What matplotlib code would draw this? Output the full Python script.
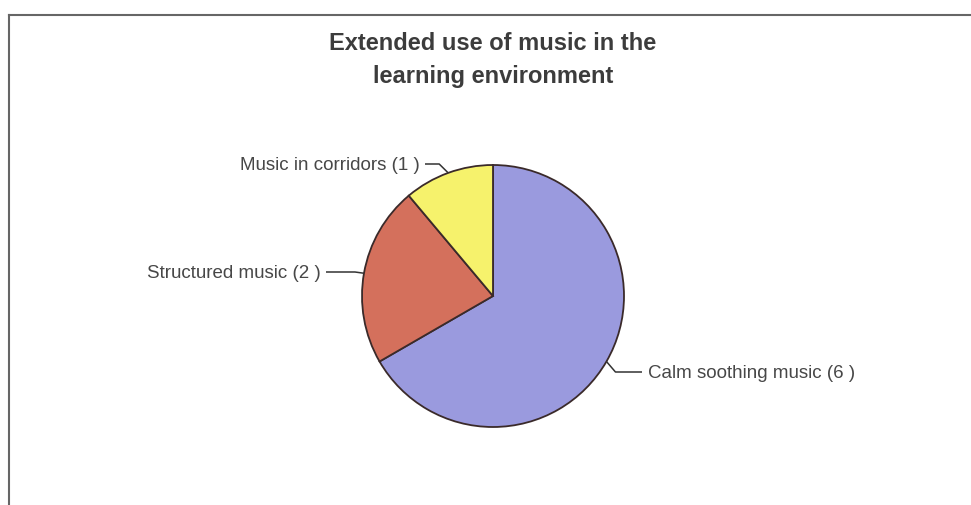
import numpy as np
import matplotlib.pyplot as plt
from matplotlib.lines import Line2D

# slice data, drawn clockwise from 12 o'clock
labels = ['Calm soothing music', 'Structured music', 'Music in corridors']
counts = [6, 2, 1]
colors = ['#9a9ade', '#d4705c', '#f6f26c']

# where each label sits (pixel coords, y measured up) and its alignment
label_pos = [(648, 133, 'left'), (321, 233, 'right'), (420, 341, 'right')]

W, H = 971, 505
fig = plt.figure(figsize=(W / 100, H / 100), dpi=100)
ax = fig.add_axes([0, 0, 1, 1])

cx, cy, r = 493, 209, 131
wedges, _ = ax.pie(counts, colors=colors, startangle=90, counterclock=False,
                   center=(cx, cy), radius=r, frame=True,
                   wedgeprops=dict(edgecolor='#3a2a2a', linewidth=1.3))

for w, name, n, (tx, ty, ha) in zip(wedges, labels, counts, label_pos):
    mid = np.deg2rad((w.theta1 + w.theta2) / 2)
    ex, ey = cx + r * np.cos(mid), cy + r * np.sin(mid)
    # short kink out from the edge, then flat to the text
    kx = ex + 9 * np.sign(np.cos(mid))
    end = tx + 5 if ha == 'right' else tx - 6
    ax.plot([ex, kx, end], [ey, ty, ty], color='#333333', lw=1.1,
            solid_capstyle='butt')
    ax.text(tx, ty, f'{name} ({n} )', ha=ha, va='center_baseline',
            fontsize=13.5, color='#474747', family='Liberation Sans')

ax.set_xlim(0, W)
ax.set_ylim(0, H)
ax.set_aspect('equal')
ax.axis('off')

for y, line in [(44, 'Extended use of music in the'), (76, 'learning environment')]:
    fig.text(cx / W, 1 - y / H, line, ha='center', va='center',
             fontsize=17, fontweight='bold', color='#3c3c3c',
             family='Liberation Sans')

# chart frame, only the top and left edges show
fig.add_artist(Line2D([9 / W, 1], [1 - 15 / H] * 2, color='#666666', lw=1.5))
fig.add_artist(Line2D([9 / W] * 2, [0, 1 - 15 / H], color='#666666', lw=1.5))

fig.savefig('out.png', dpi=100, facecolor='white')
